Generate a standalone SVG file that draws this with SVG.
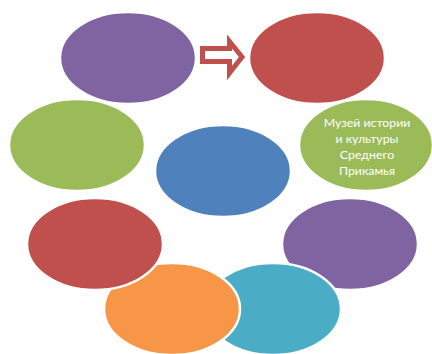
<svg xmlns="http://www.w3.org/2000/svg" width="432" height="354" viewBox="0 0 432 354">
<style>
.e{stroke:#fff;stroke-width:2.5}
.t{font-family:Lato,"Noto Sans",sans-serif;font-size:12.3px;fill:#fff;text-anchor:middle}
</style>
<rect width="432" height="354" fill="#fff"/>
<g id="n-red-top"><ellipse class="e" cx="317" cy="58" rx="68" ry="46" fill="#C0504D"/></g>
<g id="n-green-right"><ellipse class="e" cx="366" cy="145" rx="67" ry="46" fill="#9BBB59"/>
<text class="t" x="367" y="127">Музей истории</text>
<text class="t" x="367" y="143">и культуры</text>
<text class="t" x="367" y="159">Среднего</text>
<text class="t" x="367" y="175">Прикамья</text></g>
<g id="n-green-left"><ellipse class="e" cx="77" cy="145" rx="68" ry="46" fill="#9BBB59"/></g>
<g id="n-purple-top"><ellipse class="e" cx="128" cy="58" rx="68" ry="46" fill="#8064A2"/></g>
<g id="n-blue"><ellipse class="e" cx="223" cy="171" rx="68" ry="46" fill="#4F81BD"/></g>
<g id="n-purple-br"><ellipse class="e" cx="350" cy="244" rx="68" ry="46" fill="#8064A2"/></g>
<g id="n-teal"><ellipse class="e" cx="273" cy="309" rx="68" ry="46" fill="#4BACC6"/></g>
<g id="n-orange"><ellipse class="e" cx="172" cy="309" rx="68" ry="46" fill="#F79646"/></g>
<g id="n-red-bl"><ellipse class="e" cx="95" cy="244" rx="68" ry="46" fill="#C0504D"/></g>
<g id="connectors">
<path d="M202.5,48.5 H229.5 V41.5 L242,57 L229.5,73 V61.5 H202.5 Z" fill="#fff" stroke="#C0504D" stroke-width="5" stroke-linejoin="miter"/>
</g>
</svg>
